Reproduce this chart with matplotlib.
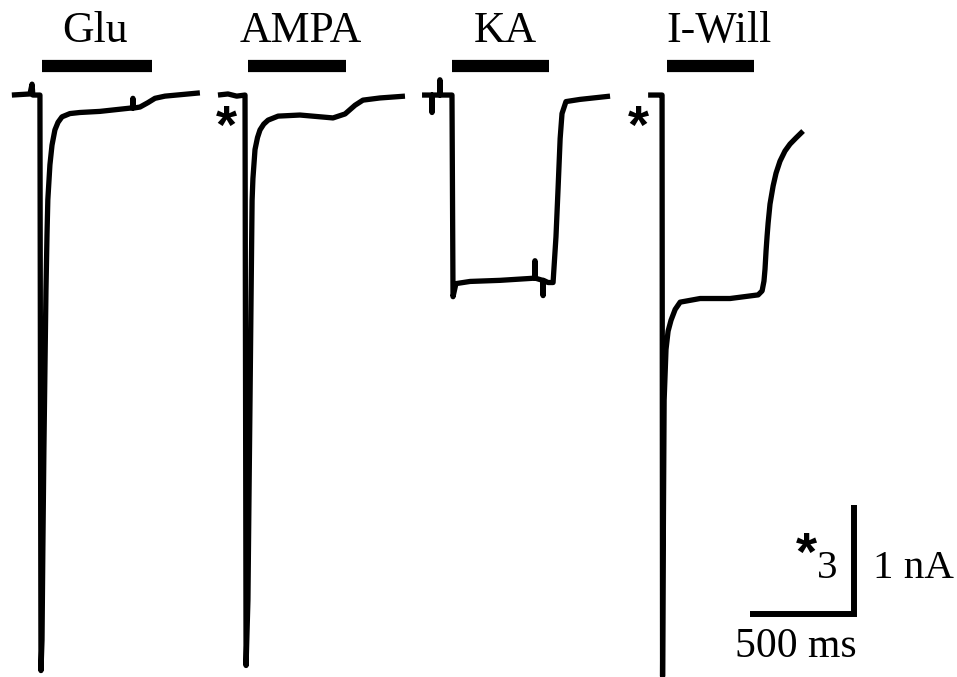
import matplotlib
matplotlib.use("Agg")
import matplotlib.pyplot as plt

# ---------------- data (time in ms relative to agonist onset, current in nA) ----------------
glu_t = [-135, -48, -38, -34, 0, 5, 10, 14, 19, 24, 29, 34, 38, 48, 58, 72, 87, 106, 144, 192, 288, 433, 445,
         447, 449, 481, 519, 553, 601, 769]
glu_i = [0, 0.01, 0.10, 0, 0, -5.28, -5.0, -4.17, -3.26, -2.52, -1.79, -1.28, -0.96, -0.64, -0.46, -0.32,
         -0.25, -0.20, -0.17, -0.16, -0.15, -0.12, -0.12, -0.03, -0.12, -0.11, -0.07, -0.03, -0.01, 0.02]

ampa_t = [-130, -82, -40, 0, 5, 14, 19, 24, 29, 34, 38, 48, 60, 72, 90, 111, 159, 264, 423, 481, 529, 567,
          649, 769]
ampa_i = [0, 0.03, -0.03, 0, -15.7, -13.9, -11.1, -8.4, -5.6, -2.9, -2.3, -1.5, -1.17, -0.96, -0.80, -0.69,
          -0.58, -0.55, -0.63, -0.52, -0.28, -0.14, -0.08, -0.03]

ka_t = [-144, -97, -96, -95, -59, -58, -57, 0, 5, 19, 87, 231, 397, 399, 401, 436, 438, 440, 462, 486, 500,
        510, 520, 529, 548, 615, 760]
ka_i = [0, 0, -0.16, 0, 0, 0.14, 0, 0, -1.85, -1.73, -1.71, -1.70, -1.68, -1.52, -1.68, -1.70, -1.84, -1.70,
        -1.72, -1.72, -1.30, -0.86, -0.40, -0.17, -0.06, -0.04, -0.01]

iwill_t = [-67, -5, 0, 2.4, 7, 10, 19, 29, 43, 63, 87, 183, 327, 462, 481, 490, 495, 500, 505, 510, 519, 534,
           548, 567, 591, 615, 644, 678]
iwill_i = [0, 0, 0, -16.0, -11.2, -8.4, -7.0, -6.5, -6.2, -5.9, -5.7, -5.6, -5.6, -5.5, -5.39, -5.12, -4.79,
           -4.29, -3.88, -3.52, -3.00, -2.50, -2.15, -1.82, -1.54, -1.35, -1.18, -0.99]

labels = ["Glu", "AMPA", "KA", "I-Will"]
bar_start = [10, 14, 0, 24]      # agonist application (ms rel. onset)
bar_end = [538, 486, 466, 442]
starred = [False, True, False, True]   # traces shown at 1/3 scale
star_scale = 3

scalebar_ms = 500
scalebar_na = 1

# ---------------- layout ----------------
onsets = [192, 1178, 2173, 3183]          # horizontal placement of each trace (ms)
label_dx = [-10, 20, 22, 40]               # label shift from bar centre (ms)
star_dx = [None, -87, None, -115]          # asterisk position rel. onset (ms)

fig = plt.figure(figsize=(9.57, 6.77), dpi=100)
ax = fig.add_axes([0, 0, 1, 1])
ax.set_xlim(0, 4601)
ax.set_ylim(-5.339, 0.872)
ax.axis("off")

serif = "Liberation Serif"
traces = [(glu_t, glu_i), (ampa_t, ampa_i), (ka_t, ka_i), (iwill_t, iwill_i)]
for k, (t, i) in enumerate(traces):
    f = 1.0 / star_scale if starred[k] else 1.0
    x = [onsets[k] + v for v in t]
    y = [v * f for v in i]
    ax.plot(x, y, color="black", lw=3.8, solid_joinstyle="round", solid_capstyle="butt")
    # application bar
    ax.plot([onsets[k] + bar_start[k], onsets[k] + bar_end[k]], [0.266, 0.266],
            color="black", lw=8.8, solid_capstyle="butt")
    xc = onsets[k] + 0.5 * (bar_start[k] + bar_end[k]) + label_dx[k]
    ax.text(xc, 0.486, labels[k], ha="center", va="baseline", fontsize=31.5, family=serif)
    if starred[k]:
        ax.text(onsets[k] + star_dx[k], -0.438, "*", ha="center", va="baseline",
                fontsize=39, family="Liberation Sans", fontweight="bold")

# scale bar
xc, yc = 4106, -4.76
ax.plot([xc - scalebar_ms, xc, xc], [yc, yc, yc + scalebar_na], color="black", lw=4.3,
        solid_joinstyle="miter", solid_capstyle="butt")
ax.text(3827, -5.156, f"{scalebar_ms} ms", ha="center", va="baseline", fontsize=30, family=serif)
ax.text(4197, -4.431, f"{scalebar_na} nA", ha="left", va="baseline", fontsize=29.5, family=serif)
ax.text(4024, -4.431, f"{star_scale}", ha="right", va="baseline", fontsize=29.5, family=serif)
ax.text(3875, -4.355, "*", ha="center", va="baseline", fontsize=39,
        family="Liberation Sans", fontweight="bold")

fig.savefig("out.png", dpi=100)
